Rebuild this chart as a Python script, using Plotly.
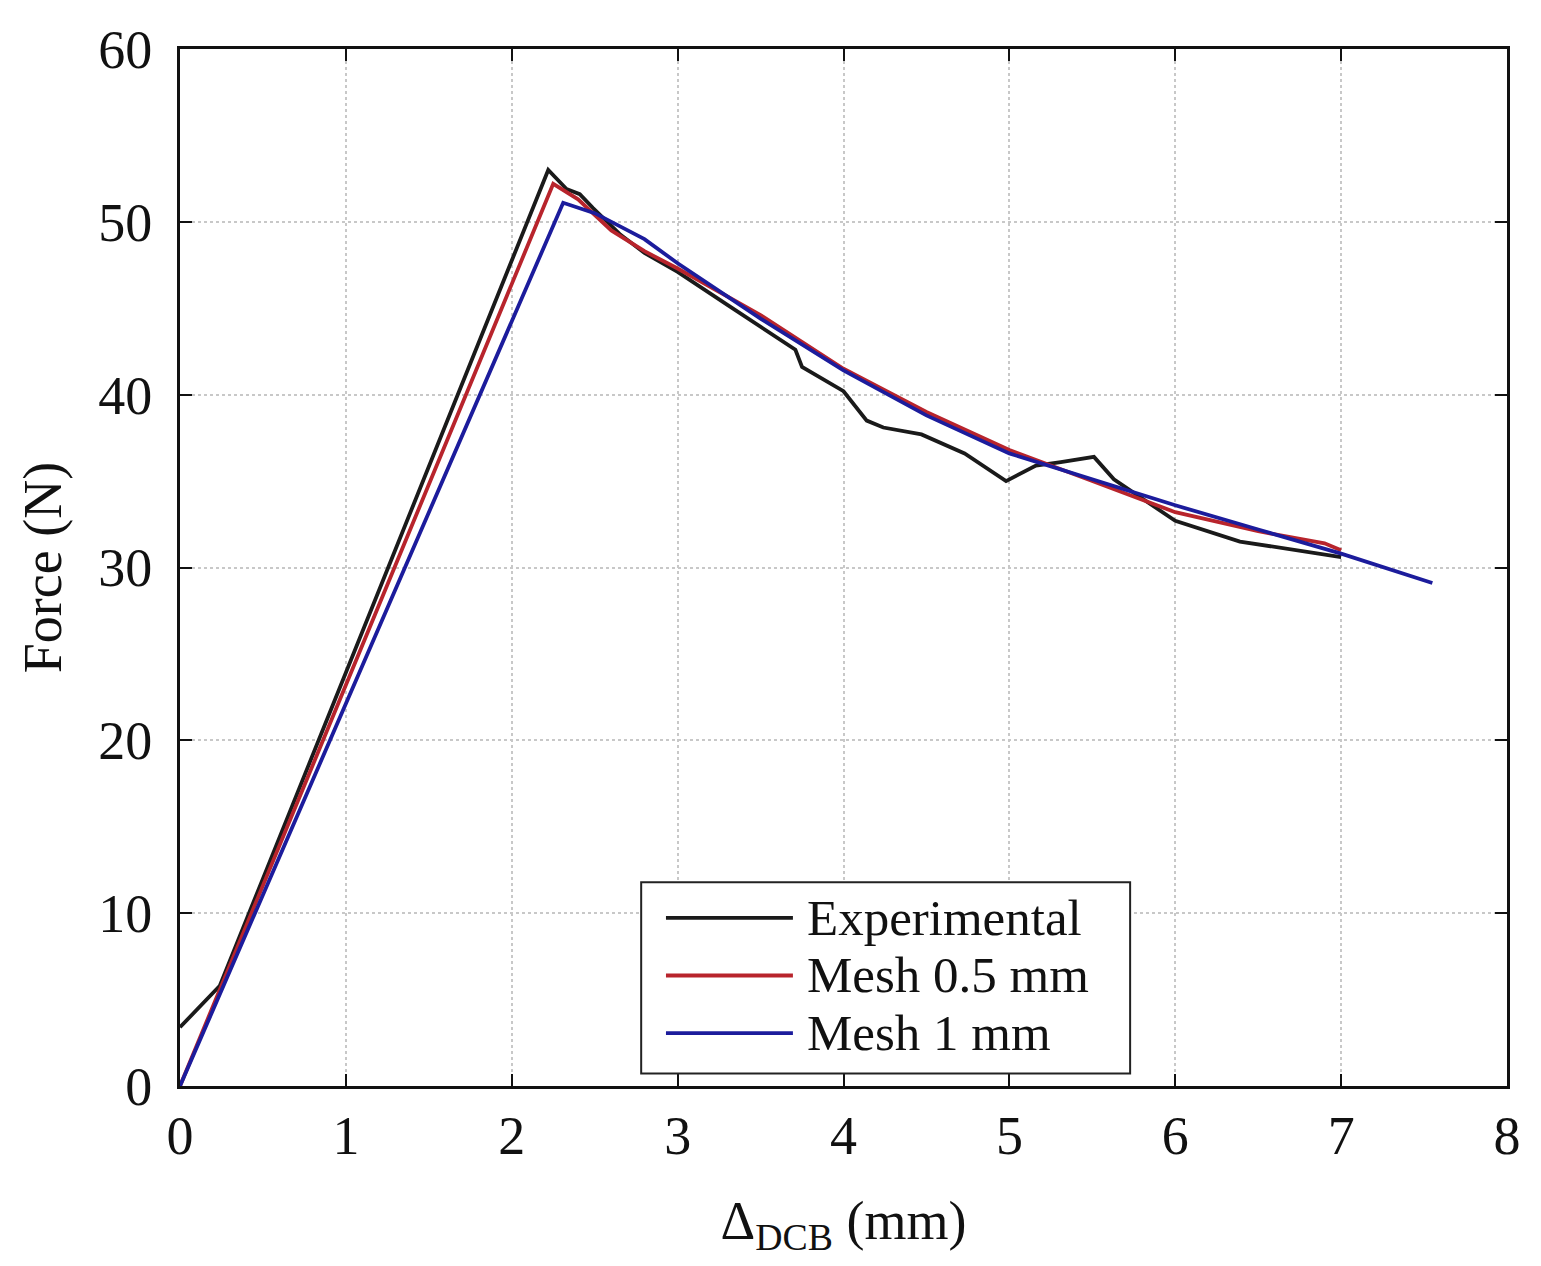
import plotly.graph_objects as go

# values
exp_x = [0, 0.24, 0.5, 1.0, 1.5, 2.0, 2.22, 2.33, 2.41, 2.49, 2.65, 2.8, 3.0, 3.3, 3.6,
         3.71, 3.75, 4.0, 4.14, 4.24, 4.47, 4.73, 4.98, 5.16, 5.31, 5.51, 5.63, 6.0,
         6.39, 6.78, 7.0]
exp_y = [3.4, 5.8, 12.0, 23.9, 35.8, 47.8, 53.0, 51.9, 51.6, 50.8, 49.3, 48.2, 47.1,
         45.2, 43.3, 42.6, 41.6, 40.2, 38.5, 38.1, 37.7, 36.6, 35.0, 35.9, 36.1, 36.4,
         35.1, 32.7, 31.5, 30.9, 30.6]

mesh05_x = [0, 2.25, 2.4, 2.6, 2.8, 3.0, 3.5, 4.0, 4.5, 5.0, 5.5, 6.0, 6.5, 6.9, 7.0]
mesh05_y = [0, 52.2, 51.3, 49.5, 48.3, 47.3, 44.6, 41.5, 39.0, 36.8, 35.0, 33.2, 32.1, 31.4, 31.0]

mesh1_x = [0, 2.31, 2.5, 2.8, 3.0, 3.5, 4.0, 4.5, 5.0, 5.5, 6.0, 6.5, 7.0, 7.55]
mesh1_y = [0, 51.1, 50.5, 49.0, 47.6, 44.4, 41.4, 38.8, 36.6, 35.1, 33.6, 32.2, 30.8, 29.1]

names = ["Experimental", "Mesh 0.5 mm", "Mesh 1 mm"]
colors = ["#1a1a1a", "#b8242c", "#1c1c9c"]

FONT = "Liberation Serif"
FS = 54

fig = go.Figure()
for xs, ys, nm, c in zip([exp_x, mesh05_x, mesh1_x], [exp_y, mesh05_y, mesh1_y], names, colors):
    fig.add_trace(go.Scatter(x=xs, y=ys, mode="lines", name=nm,
                             line=dict(color=c, width=3.8), showlegend=False))

# page has an 8px body margin, so figure coords = page coords - 8
OFF = 8
W, H = 1541 - 2 * OFF, 1266 - 2 * OFF
L, R, T, B = 180 - OFF, 1518 - OFF, 36 - OFF, 1115 - OFF


def px(x):
    return (x - OFF - L) / (R - L)


def py(y):
    return (B - (y - OFF)) / (B - T)


# hand-drawn legend (long line samples like the original)
shapes = [dict(type="rect", xref="paper", yref="paper",
               x0=px(645), x1=px(1138), y0=py(1102), y1=py(903),
               line=dict(color="#222", width=2), fillcolor="white", layer="above")]
annots = []
for i, (nm, c) in enumerate(zip(names, colors)):
    yy = [940, 1000, 1060][i]
    shapes.append(dict(type="line", xref="paper", yref="paper",
                       x0=px(670), x1=px(798), y0=py(yy), y1=py(yy),
                       line=dict(color=c, width=3.8), layer="above"))
    annots.append(dict(xref="paper", yref="paper", x=px(810), y=py(yy), text=nm,
                       showarrow=False, xanchor="left", yanchor="middle",
                       font=dict(family=FONT, size=51, color="#111")))

axis_common = dict(showline=True, linecolor="#111", linewidth=3, mirror="ticks",
                   ticks="inside", ticklen=12, tickwidth=2, tickcolor="#111",
                   showgrid=True, gridcolor="#c8c8c8", griddash="dot", gridwidth=2,
                   zeroline=False, ticklabeloverflow="allow",
                   tickfont=dict(family=FONT, size=FS, color="#111"))

fig.update_layout(
    width=W, height=H,
    margin=dict(l=L, r=W - R, t=T, b=H - B),
    plot_bgcolor="white", paper_bgcolor="white",
    xaxis=dict(range=[0, 8], dtick=1, ticklabelstandoff=0,
               title=dict(text="Δ<sub>DCB</sub> (mm)", standoff=42,
                          font=dict(family=FONT, size=FS, color="#111")),
               **axis_common),
    yaxis=dict(range=[0, 60], dtick=10, ticklabelstandoff=14,
               title=dict(text="Force (N)", standoff=20,
                          font=dict(family=FONT, size=FS, color="#111")),
               **axis_common),
    shapes=shapes, annotations=annots,
)

fig.write_html("out.html")
